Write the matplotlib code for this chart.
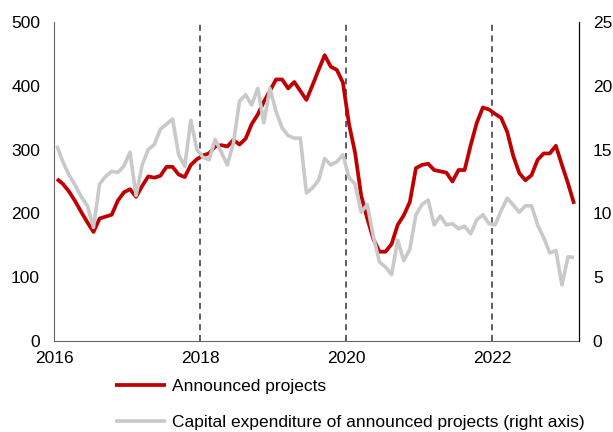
import numpy as np
import matplotlib
matplotlib.use('Agg')
import matplotlib.pyplot as plt

plt.rcParams['font.family'] = ['Liberation Sans', 'DejaVu Sans']

# monthly data, Jan 2016 - Feb 2023
start_year = 2016
announced = [254, 246, 234, 219, 202, 186, 171, 192, 195, 198, 220, 233,
             238, 226, 243, 258, 256, 259, 273, 273, 261, 257, 276, 285,
             291, 294, 305, 307, 305, 315, 308, 317, 340, 355, 375, 392,
             410, 410, 396, 406, 392, 378, 401, 425, 448, 430, 425, 405,
             340, 295, 228, 192, 160, 140, 140, 152, 182, 197, 218, 271,
             276, 278, 268, 266, 264, 250, 268, 268, 307, 342, 366, 363,
             356, 350, 328, 290, 263, 252, 260, 284, 294, 294, 306, 276,
             247, 215]
capex = [15.3, 14.0, 13.0, 12.2, 11.3, 10.6, 8.9, 12.3, 12.9, 13.3, 13.2, 13.7,
         14.8, 11.4, 13.8, 15.0, 15.4, 16.6, 17.0, 17.4, 14.6, 13.7, 17.3, 15.0,
         14.4, 14.2, 15.8, 14.8, 13.8, 15.5, 18.8, 19.3, 18.5, 19.8, 17.1, 19.8,
         18.0, 16.7, 16.1, 15.9, 15.9, 11.6, 12.0, 12.6, 14.3, 13.8, 14.05, 14.6,
         12.8, 12.3, 10.1, 10.7, 8.2, 6.2, 5.8, 5.2, 7.9, 6.3, 7.2, 9.9,
         10.7, 11.05, 9.1, 9.8, 9.1, 9.2, 8.8, 9.0, 8.4, 9.5, 9.9, 9.2,
         9.1, 10.2, 11.2, 10.65, 10.1, 10.6, 10.6, 9.1, 8.1, 6.9, 7.1, 4.4,
         6.6, 6.55]
year_ticks = [2016, 2018, 2020, 2022]
vlines = [2018, 2020, 2022]

t = start_year + (np.arange(len(announced)) + 0.5) / 12

red = '#C00000'
grey = '#C9C9C9'
fs = 12.5

fig = plt.figure(figsize=(6.13, 4.32), dpi=100)
ax = fig.add_axes([0.088, 0.2106, 0.8565, 0.7384])
ax2 = ax.twinx()

for x in vlines:
    ax.axvline(x, color='#333333', lw=1.1, ls=(0, (4, 3)), zorder=1)

l1, = ax.plot(t, announced, color=red, lw=2.7, label='Announced projects',
              solid_capstyle='butt', zorder=3)
l2, = ax2.plot(t, capex, color=grey, lw=2.6, solid_capstyle='butt',
               label='Capital expenditure of announced projects (right axis)')

ax.set_xlim(2016, 2016 + 86.3 / 12)
ax.set_ylim(0, 500)
ax2.set_ylim(0, 25)
ax.set_yticks(range(0, 501, 100))
ax2.set_yticks(range(0, 26, 5))
ax.set_xticks(year_ticks)
ax.set_xticklabels([str(y) for y in year_ticks])

for a in (ax, ax2):
    a.spines['top'].set_visible(False)
    a.tick_params(length=0, labelsize=fs, colors='black')
ax.tick_params(axis='y', pad=10)
ax.tick_params(axis='x', pad=7)
ax2.tick_params(axis='y', pad=10)
ax.spines['left'].set_color('#666666')
ax.spines['bottom'].set_color('#666666')
ax2.spines['left'].set_visible(False)
ax2.spines['bottom'].set_visible(False)
ax2.spines['right'].set_color('black')

fig.legend(handles=[l1, l2], loc='upper left', bbox_to_anchor=(0.1876, 0.124),
           frameon=False, fontsize=fs, handlelength=2.95, handletextpad=0.35,
           labelspacing=1.25, borderaxespad=0, borderpad=0)

fig.savefig('out.png', dpi=100)
